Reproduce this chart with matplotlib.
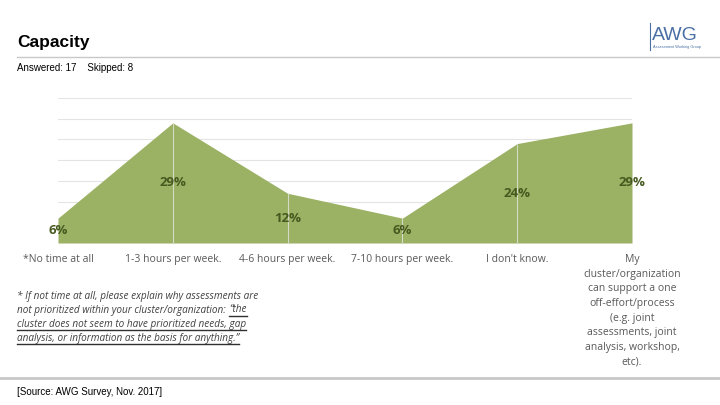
import matplotlib
matplotlib.use('Agg')
import matplotlib.pyplot as plt

# dados
categorias = ['*No time at all', '1-3 hours per week.', '4-6 hours per week.',
              '7-10 hours per week.', "I don't know.",
              'My\ncluster/organization\ncan support a one\noff-effort/process\n(e.g. joint\nassessments, joint\nanalysis, workshop,\netc).']
valores = [6, 29, 12, 6, 24, 29]
rotulos = ['6%', '29%', '12%', '6%', '24%', '29%']

verde = '#9bb164'
verde_escuro = '#46591f'
cinza = '#595959'

fig = plt.figure(figsize=(7.2, 4.05), dpi=100)
ax = fig.add_axes([58/720, 1 - 243/405, (632 - 58)/720, (243 - 98)/405])

x = list(range(len(valores)))
ax.fill_between(x, valores, 0, color=verde, lw=0, zorder=2)
ax.vlines(x[1:-1], 0, valores[1:-1], color='#d4dcc4', lw=0.8, zorder=3)

# rotulos no meio da area
for i, v in enumerate(valores):
    ax.text(i, v / 2, rotulos[i], ha='center', va='center',
            fontsize=9.5, fontweight='bold', color=verde_escuro,
            family='Open Sans', zorder=4)

ax.set_xlim(0, len(valores) - 1)
ax.set_ylim(0, 35)
ax.set_yticks(range(5, 36, 5))
ax.yaxis.grid(True, color='#e4e4e4', lw=0.8, zorder=0)
ax.set_axisbelow(True)
ax.tick_params(axis='y', left=False, labelleft=False)
ax.tick_params(axis='x', length=0, pad=8)
ax.set_xticks(x)
ax.set_xticklabels(categorias, fontsize=7.5, color=cinza, family='Open Sans',
                   va='top', linespacing=1.45)
for s in ax.spines.values():
    s.set_visible(False)

# cabecalho
fig.text(17/720, 1 - 43/405, 'Capacity', fontsize=12.5, fontweight='bold',
         family='Liberation Sans', va='center')
fig.add_artist(plt.Line2D([17/720, 1], [1 - 57/405, 1 - 57/405], color='#c8c8c8', lw=1))
fig.text(17/720, 1 - 68/405, 'Answered: 17    Skipped: 8', fontsize=7,
         family='Liberation Sans', va='center')

# logo AWG
fig.add_artist(plt.Line2D([650/720, 650/720], [1 - 23/405, 1 - 50/405], color='#4a6fa5', lw=0.8))
fig.text(652/720, 1 - 35/405, 'AWG', fontsize=14, color='#4a6fa5',
         family='Liberation Sans', va='center')
fig.text(653/720, 1 - 47/405, 'Assessment Working Group', fontsize=2.8, color='#4a6fa5',
         family='Liberation Sans', va='center')

# nota de rodape
notas = [('* If not time at all, please explain why assessments are', ''),
         ('not prioritized within your cluster/organization: ', '\u201cthe'),
         ('', 'cluster does not seem to have prioritized needs, gap'),
         ('', 'analysis, or information as the basis for anything.\u201d')]
fig.canvas.draw()
r = fig.canvas.get_renderer()
for k, (a, b) in enumerate(notas):
    y = 1 - (296 + 14 * k) / 405
    x0 = 17 / 720
    if a:
        t = fig.text(x0, y, a, fontsize=7.2, style='italic', color='#404040',
                     family='Open Sans', va='center')
        x0 = fig.transFigure.inverted().transform(t.get_window_extent(r))[1][0] + 1/720
    if b:
        t = fig.text(x0, y, b, fontsize=7.2, style='italic', color='#404040',
                     family='Open Sans', va='center')
        bb = fig.transFigure.inverted().transform(t.get_window_extent(r))
        fig.add_artist(plt.Line2D([bb[0][0], bb[1][0]], [y - 6/405, y - 6/405],
                                  color='#303030', lw=1))

# rodape
fig.add_artist(plt.Line2D([0, 1], [1 - 378/405, 1 - 378/405], color='#c8c8c8', lw=2))
fig.text(17/720, 1 - 392/405, '[Source: AWG Survey, Nov. 2017]', fontsize=7,
         family='Liberation Sans', va='center')

plt.savefig('out.png', dpi=100)
